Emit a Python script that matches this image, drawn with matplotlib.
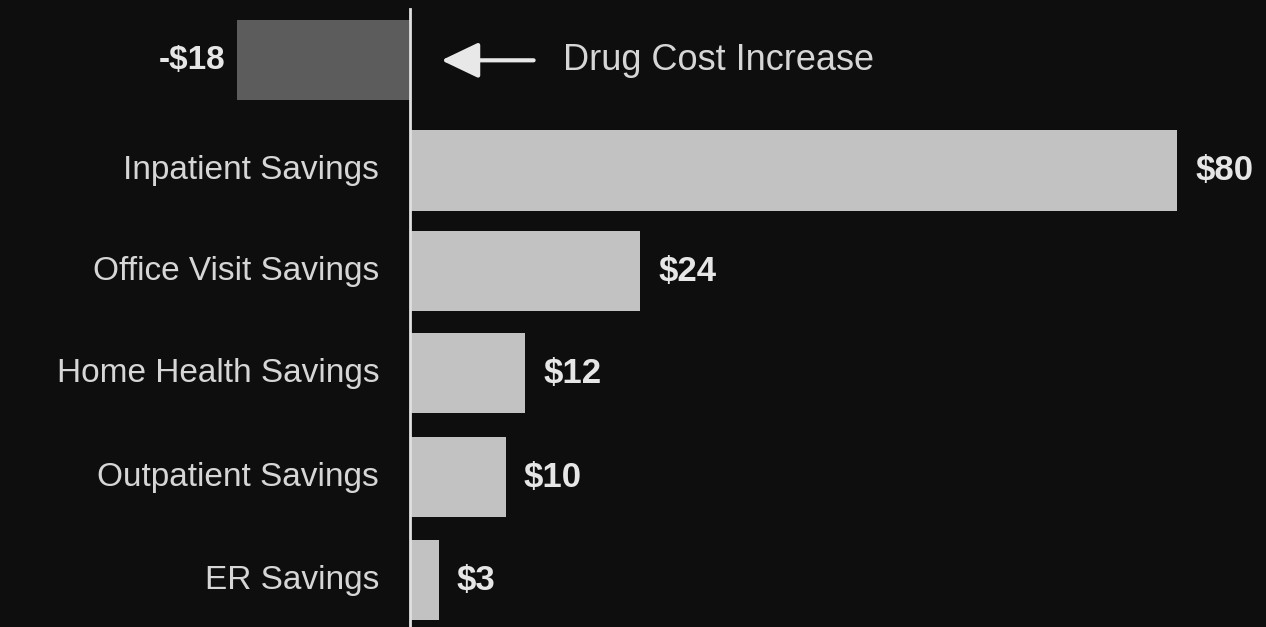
import numpy as np
import matplotlib.pyplot as plt

plt.rcParams['font.family'] = ['Liberation Sans', 'DejaVu Sans']

categories = ['', 'Inpatient Savings', 'Office Visit Savings', 'Home Health Savings',
              'Outpatient Savings', 'ER Savings']
values = [-18, 80, 24, 12, 10, 3]
value_labels = ['-$18', '$80', '$24', '$12', '$10', '$3']

bg = '#0e0e0e'
pos_color = '#c2c2c2'
neg_color = '#5c5c5c'
text_color = '#e6e6e6'

fig = plt.figure(figsize=(12.66, 6.27), dpi=100, facecolor=bg)
ax = fig.add_axes([0, 0, 1, 1])
ax.set_facecolor(bg)

y = np.array([0, 1.06, 2.03, 3.01, 4.01, 5.0])
colors = [neg_color if v < 0 else pos_color for v in values]
ax.barh(y, values, height=0.77, color=colors, edgecolor='none')

# value labels beside each bar
for yi, v, lab in zip(y, values, value_labels):
    if v < 0:
        ax.text(v - 1.2, yi, lab, ha='right', va='center', fontsize=24,
                fontweight='bold', color=text_color)
    else:
        ax.text(v + 1.9, yi, lab, ha='left', va='center', fontsize=25,
                fontweight='bold', color=text_color)

# category names to the left of the axis line
for yi, c in zip(y, categories):
    ax.text(-3.2, yi, c, ha='right', va='center', fontsize=24, color='#d6d6d6')

# zero line
ax.axvline(0, ymin=0, ymax=0.985, color='#e0e0e0', lw=2)

# annotation for the negative bar
ax.annotate('', xy=(3.0, 0), xytext=(13.2, 0),
            arrowprops=dict(arrowstyle='-|>,head_length=2.3,head_width=1.1',
                            mutation_scale=10, color='#e8e8e8', lw=3))
ax.text(16.0, 0, 'Drug Cost Increase', ha='left', va='center', fontsize=26,
        color='#d6d6d6')

ax.set_xlim(-42.75, 89.3)
ax.set_ylim(5.45, -0.58)
ax.axis('off')

fig.savefig('out.png', dpi=100, facecolor=bg)
